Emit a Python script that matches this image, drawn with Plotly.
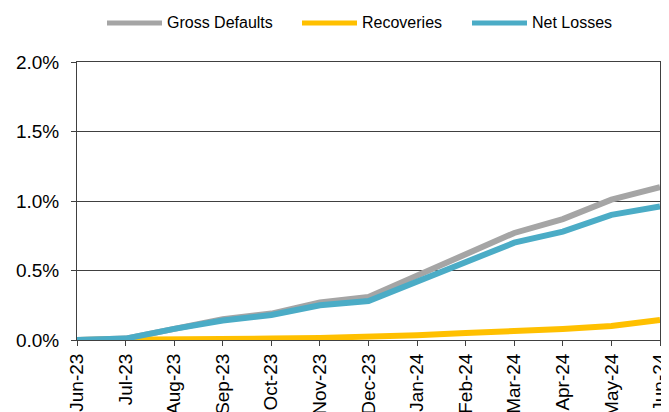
import plotly.graph_objects as go

# Données (en %)
months = ["Jun-23", "Jul-23", "Aug-23", "Sep-23", "Oct-23", "Nov-23", "Dec-23",
          "Jan-24", "Feb-24", "Mar-24", "Apr-24", "May-24", "Jun-24"]
gross_defaults = [0.0, 0.01, 0.08, 0.15, 0.19, 0.27, 0.31, 0.46, 0.62, 0.77, 0.87, 1.01, 1.10]
recoveries = [0.0, 0.0, 0.005, 0.007, 0.01, 0.015, 0.02, 0.035, 0.05, 0.062, 0.08, 0.10, 0.144]
net_losses = [0.0, 0.01, 0.08, 0.14, 0.18, 0.25, 0.28, 0.42, 0.57, 0.70, 0.78, 0.90, 0.96]

series_names = ["Gross Defaults", "Recoveries", "Net Losses"]
series_values = [gross_defaults, recoveries, net_losses]
series_colors = ["#A5A5A5", "#FFC000", "#4BACC6"]

# la page html a une marge de 8px autour de la figure : on la compense
OFF = 8
W, H = 669 - OFF, 412 - OFF
L, R, T, B = 77 - OFF, 9, 62 - OFF, 72
plot_w = W - L - R
plot_h = H - T - B


def px_to_paper(px, py):
    # px, py : pixels dans la fenêtre
    return (px - OFF - L) / plot_w, (H - B - (py - OFF)) / plot_h


fig = go.Figure()
for name, vals, color in zip(series_names, series_values, series_colors):
    fig.add_trace(go.Scatter(x=months, y=[v / 100 for v in vals], mode="lines",
                             name=name, line=dict(color=color, width=6),
                             showlegend=False))

# Légende dessinée à la main (échantillons de ligne plus longs que ceux de plotly)
legend_starts = [107, 302, 472]
for name, color, x0 in zip(series_names, series_colors, legend_starts):
    xa, ya = px_to_paper(x0, 23)
    xb, _ = px_to_paper(x0 + 55, 23)
    fig.add_shape(type="line", xref="paper", yref="paper", x0=xa, x1=xb, y0=ya, y1=ya,
                  line=dict(color=color, width=5), layer="above")
    xt, _ = px_to_paper(x0 + 58, 23)
    fig.add_annotation(text=name, xref="paper", yref="paper", x=xt, y=ya,
                       xanchor="left", yanchor="middle", showarrow=False,
                       font=dict(size=16))

fig.update_layout(
    width=W, height=H,
    margin=dict(l=L, r=R, t=T, b=B),
    paper_bgcolor="white", plot_bgcolor="white",
    font=dict(family="Liberation Sans, Arial, sans-serif", color="#000000"),
    showlegend=False,
)

fig.update_xaxes(
    type="category", range=[0, 12], tickangle=-90, automargin=False,
    tickfont=dict(size=19), ticks="outside", ticklen=5, tickcolor="#404040",
    showline=True, linecolor="#404040", linewidth=1, mirror=True,
    showgrid=False,
)
fig.update_yaxes(
    range=[0, 0.02], dtick=0.005, tickformat=".1%", automargin=False,
    tickfont=dict(size=19), ticks="outside", ticklen=5, tickcolor="#404040",
    ticklabelstandoff=8,
    showline=True, linecolor="#404040", linewidth=1, mirror=True,
    showgrid=True, gridcolor="#404040", gridwidth=1, zeroline=False,
)

fig.write_html("out.html")
